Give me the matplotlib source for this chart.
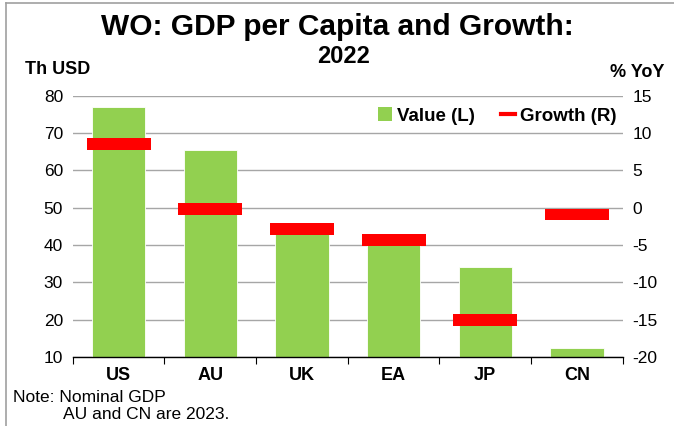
import matplotlib
matplotlib.use("Agg")
import matplotlib.pyplot as plt
from matplotlib.lines import Line2D
from matplotlib.patches import Patch
import numpy as np

plt.rcParams['font.family'] = ['Liberation Sans', 'DejaVu Sans']
plt.rcParams['axes.unicode_minus'] = False

categories = ["US", "AU", "UK", "EA", "JP", "CN"]
value_th_usd = [77.1, 65.5, 45.5, 41.0, 34.0, 12.5]
growth_yoy = [8.6, -0.2, -2.8, -4.3, -15.1, -0.9]
left_ticks = [10, 20, 30, 40, 50, 60, 70, 80]
right_ticks = [-20, -15, -10, -5, 0, 5, 10, 15]

green = "#92D050"
red = "#FF0000"

fig = plt.figure(figsize=(6.74, 4.26), dpi=100)
ax = fig.add_axes([0.108, 0.162, 0.816, 0.613])
ax2 = ax.twinx()

x = np.arange(len(categories))
ax.bar(x, np.array(value_th_usd) - 10, bottom=10, width=0.58, color=green,
       edgecolor="white", linewidth=0.6, zorder=2)
ax.set_ylim(10, 80)
ax.set_xlim(-0.5, len(categories) - 0.5)
ax.set_yticks(left_ticks)
ax.grid(axis="y", color="#A6A6A6", linewidth=1.0, zorder=0)
ax.set_axisbelow(True)

mh = 1.6
ax2.bar(x, [mh] * len(x), bottom=np.array(growth_yoy) - mh / 2, width=0.70,
        color=red, linewidth=0, zorder=3)
ax2.set_ylim(-20, 15)
ax2.set_yticks(right_ticks)

for a in (ax, ax2):
    for s in ("left", "right", "top"):
        a.spines[s].set_visible(False)
    a.tick_params(axis="y", length=0, labelsize=12.5, pad=7)
ax.spines["bottom"].set_color("black")
ax.spines["bottom"].set_linewidth(1.0)
ax2.spines["bottom"].set_visible(False)

ax.set_xticks(np.arange(-0.5, len(categories), 1.0))
ax.set_xticklabels([])
ax.tick_params(axis="x", which="major", length=5, direction="out", color="black")
ax.set_xticks(x, minor=True)
ax.set_xticklabels(categories, minor=True, fontweight="bold", fontsize=13)
ax.tick_params(axis="x", which="minor", length=0, pad=7)

handles = [Patch(facecolor=green, edgecolor="none"),
           Line2D([0], [0], color=red, linewidth=3)]
leg = ax2.legend(handles, ["Value (L)", "Growth (R)"], loc="center right",
                 ncol=2, frameon=False, prop={"weight": "bold", "size": 13.5},
                 handlelength=0.75, handleheight=0.75, handletextpad=0.25,
                 columnspacing=1.4, bbox_to_anchor=(1.005, 0.923),
                 borderpad=0.0)

fig.text(0.5, 0.937, "WO: GDP per Capita and Growth:", ha="center", va="center",
         fontsize=21.5, fontweight="bold")
fig.text(0.51, 0.868, "2022", ha="center", va="center", fontsize=17,
         fontweight="bold")
fig.text(0.037, 0.836, "Th USD", ha="left", va="center", fontsize=13,
         fontweight="bold")
fig.text(0.905, 0.83, "% YoY", ha="left", va="center", fontsize=13,
         fontweight="bold")
fig.text(0.019, 0.068, "Note: Nominal GDP", ha="left", va="center", fontsize=12.5)
fig.text(0.094, 0.027, "AU and CN are 2023.", ha="left", va="center", fontsize=12.5)

# outer frame (top and left edges)
fig.add_artist(Line2D([0.009, 0.009], [0, 0.993], transform=fig.transFigure,
                      color="#A0A0A0", linewidth=1.2))
fig.add_artist(Line2D([0.009, 1.0], [0.993, 0.993], transform=fig.transFigure,
                      color="#A0A0A0", linewidth=1.2))

fig.savefig("out.png", dpi=100)
